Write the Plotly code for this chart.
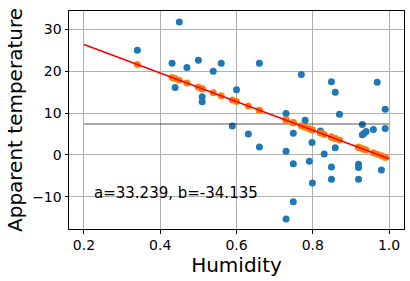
import plotly.graph_objects as go

humidity = [0.34, 0.45, 0.431, 0.47, 0.50, 0.56, 0.539, 0.439, 0.51, 0.51, 0.60, 0.589,
            0.66, 0.77, 0.849, 0.859, 0.969, 0.99, 0.73, 0.78, 0.87, 0.631, 0.749,
            0.93, 0.93, 0.94, 0.959, 0.99, 0.935, 0.82,
            0.798, 0.66, 0.73, 0.83, 0.859, 0.749, 0.791, 0.849, 0.849, 0.92, 0.92,
            0.92, 0.98, 0.799, 0.749, 0.73]
app_temp = [25.0, 31.8, 21.9, 20.9, 22.6, 21.9, 20.0, 16.1, 13.9, 12.7, 15.6, 6.9,
            21.9, 19.2, 17.5, 15.0, 17.4, 10.9, 9.9, 8.3, 9.7, 5.0, 5.2,
            7.3, 4.8, 5.6, 6.1, 6.3, 5.2, 5.7,
            3.0, 1.9, 0.9, 0.2, 1.7, -2.1, -1.5, -2.9, -5.8, -2.2, -3.0,
            -5.8, -3.6, -6.7, -11.2, -15.3]
a_coef = 33.239
b_coef = -34.135
mean_temp = 7.4
line_x = [0.2, 1.0]
annotation_text = "a=33.239, b=-34.135"

pred = [a_coef + b_coef * h for h in humidity]
line_y = [a_coef + b_coef * h for h in line_x]

fig = go.Figure()
fig.add_trace(go.Scatter(x=humidity, y=app_temp, mode="markers",
                         marker=dict(color="#1f77b4", size=7, line=dict(width=0))))
fig.add_trace(go.Scatter(x=line_x, y=[mean_temp, mean_temp], mode="lines",
                         line=dict(color="rgba(0,0,0,0.45)", width=1.5)))
fig.add_trace(go.Scatter(x=humidity, y=pred, mode="markers",
                         marker=dict(color="#ff7f0e", size=7, line=dict(width=0))))
fig.add_trace(go.Scatter(x=line_x, y=line_y, mode="lines",
                         line=dict(color="red", width=1.6)))

fig.add_annotation(x=0.22, y=-9, text=annotation_text, showarrow=False,
                   xanchor="left", yanchor="middle",
                   font=dict(size=15, color="black"))

axis_common = dict(showline=True, linecolor="black", linewidth=1, mirror=True,
                   showgrid=True, gridcolor="#b0b0b0", gridwidth=0.8,
                   ticks="outside", ticklen=3.5, tickcolor="black",
                   tickfont=dict(size=14, color="black"), zeroline=False)

fig.update_layout(
    width=410, height=281,
    margin=dict(l=69, r=6, t=11, b=52),
    paper_bgcolor="white", plot_bgcolor="white",
    showlegend=False,
    font=dict(family="DejaVu Sans", color="black"),
    xaxis=dict(range=[0.1607, 1.0393], tickvals=[0.2, 0.4, 0.6, 0.8, 1.0],
               ticktext=["0.2", "0.4", "0.6", "0.8", "1.0"],
               title=dict(text="Humidity", font=dict(size=20), standoff=0),
               **axis_common),
    yaxis=dict(range=[-17.7, 34.4], tickvals=[-10, 0, 10, 20, 30],
               title=dict(text="Apparent temperature", font=dict(size=20), standoff=4),
               **axis_common),
)

fig.write_html("out.html")
